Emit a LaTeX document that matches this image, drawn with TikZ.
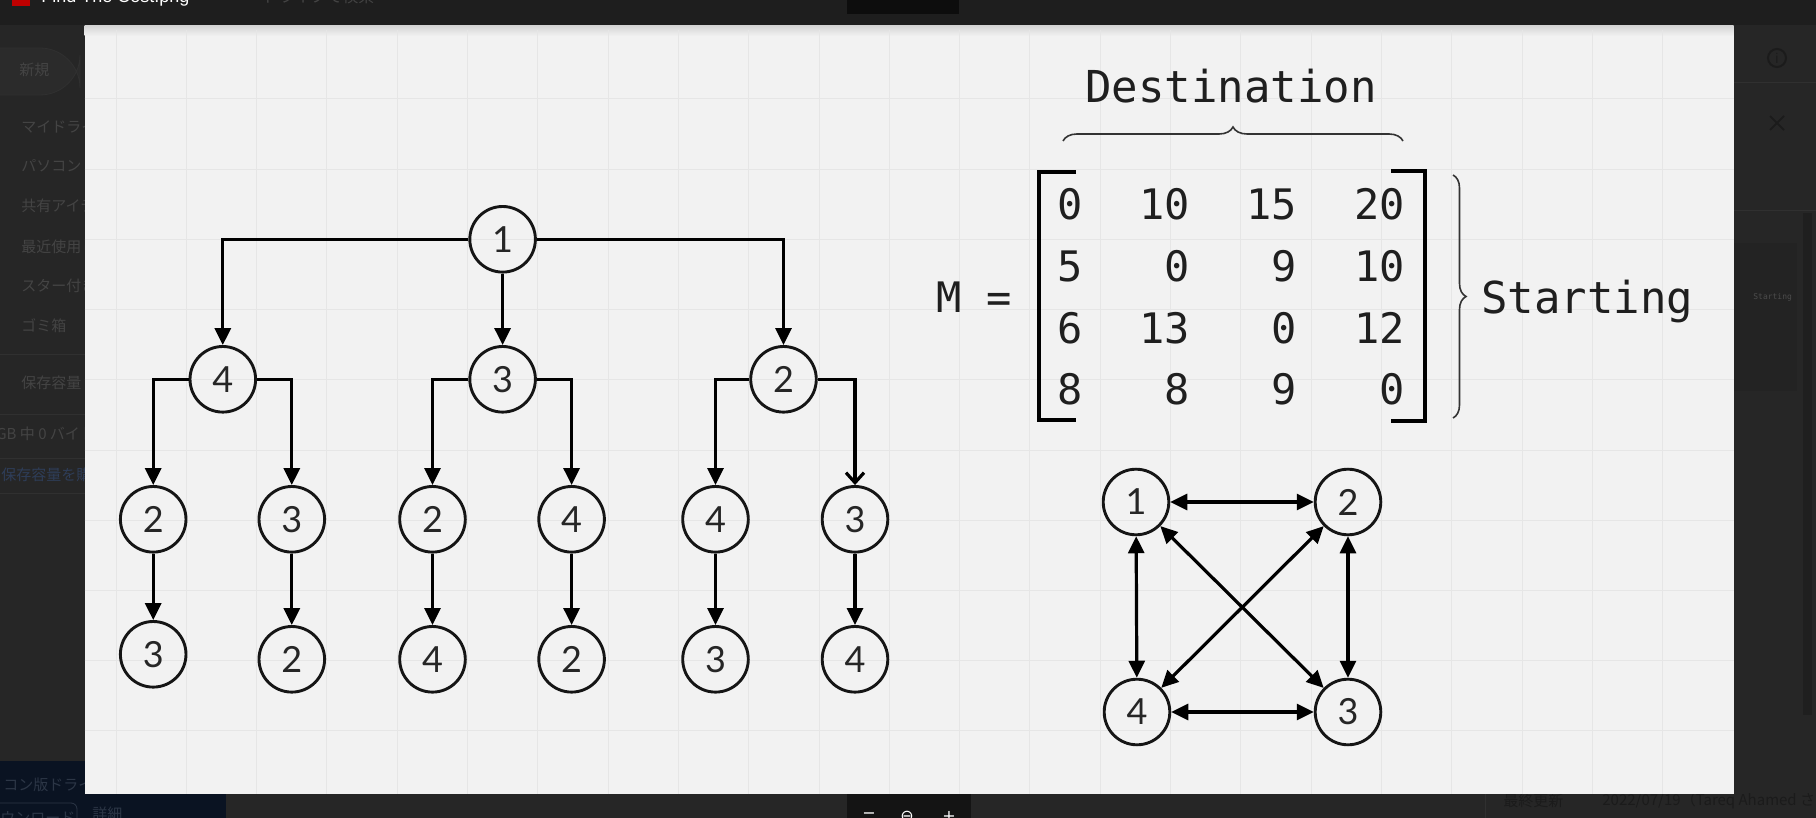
\documentclass[tikz,border=0pt]{standalone}
\usepackage{fontspec}
\usetikzlibrary{arrows.meta,decorations.pathreplacing}
\newfontfamily\monof{DejaVu Sans Mono}
\newfontfamily\numf{Lato}
\newfontfamily\jpf{Noto Sans CJK JP}
\newfontfamily\uif{Liberation Sans}
\newfontfamily\symf{DejaVu Sans}
\definecolor{canvasbg}{HTML}{F2F2F2}
\definecolor{gridc}{HTML}{E6E6E6}
\definecolor{uibg}{HTML}{262626}
\definecolor{pillc}{HTML}{2B2B2B}
\definecolor{topbar}{HTML}{1E1E1E}
\definecolor{uitext}{HTML}{444444}
\definecolor{uidark}{HTML}{1B1B1B}
\definecolor{uiline}{HTML}{303030}
\definecolor{ink}{HTML}{151515}
\definecolor{navy}{HTML}{0A1322}
\definecolor{navytext}{HTML}{2C3646}
\definecolor{linkc}{HTML}{2E3D58}
\tikzset{
  vnode/.style={circle, draw=ink, line width=1.45pt, minimum size=32.8pt, inner sep=0pt,
    font=\numf\fontsize{18}{18}\selectfont, text=black!85},
  tarr/.style={draw=black, line width=1.6pt, -{Triangle[length=8.5pt,width=8pt]}},
  barr/.style={draw=black, line width=1.6pt, {Triangle[length=8.5pt,width=8pt]}-{Triangle[length=8.5pt,width=8pt]}},
  oarr/.style={draw=black, line width=1.6pt, -{Straight Barb[length=5pt,width=9pt]}},
  mtx/.style={font=\monof\fontsize{21}{21}\selectfont, text=black!88, inner sep=0pt, anchor=base east},
  bigtxt/.style={font=\monof\fontsize{22}{22}\selectfont, text=black!88, inner sep=0pt, anchor=base west},
  bracketline/.style={draw=black, line width=2pt},
  bracestyle/.style={draw=black!80, line width=0.8pt, decorate},
  uil/.style={font=\jpf\fontsize{7.5}{7.5}\selectfont, text=uitext, anchor=west, inner sep=0pt},
  gridline/.style={draw=gridc, line width=0.5pt},
  sepline/.style={draw=uiline, line width=0.5pt},
}
\begin{document}
\begin{tikzpicture}[x=0.5pt, y=-0.5pt]
\useasboundingbox (0,0) rectangle (1816,818);
\clip (0,0) rectangle (1816,818);
% ---------- application frame ----------
\fill[uibg] (0,0) rectangle (1816,818);
\fill[topbar] (0,0) rectangle (1816,25);
\fill[red!75!black] (12,0) rectangle (30,6);
\node[font=\uif\fontsize{9}{9}\selectfont, text=white, anchor=base west, inner sep=0pt] (title) at (41,3) {Find The Cost.png};
\node[font=\jpf\fontsize{8}{8}\selectfont, text=uitext, anchor=base west, inner sep=0pt] (search) at (262,3) {ドライブで検索};
\fill[black!95] (847,0) rectangle (959,14);
% sidebar
\filldraw[fill=pillc, draw=uiline, rounded corners=20pt] (-40,48) rectangle (80,95);
\node[uil] (nw) at (19,70) {新規};
\node[uil] (s1) at (21,126) {マイドライブ};
\node[uil] (s2) at (21,166) {パソコン};
\node[uil] (s3) at (21,206) {共有アイテム};
\node[uil] (s4) at (21,247) {最近使用したアイテム};
\node[uil] (s5) at (21,286) {スター付き};
\node[uil] (s6) at (21,326) {ゴミ箱};
\draw[sepline] (0,355) -- (90,355);
\node[uil] (s7) at (21,383) {保存容量};
\draw[sepline] (0,414) -- (90,414);
\node[uil] (s8) at (-4,434) {GB 中 0 バイト};
\draw[sepline] (0,458) -- (90,458);
\node[uil, text=linkc] (s9) at (1,475) {保存容量を購入};
\draw[sepline] (0,493) -- (90,493);
% bottom left promo
\fill[navy] (0,761) rectangle (226,818);
\node[uil, text=navytext] (p1) at (3,785) {コン版ドライブ};
\draw[navytext, rounded corners=3pt] (-10,803) rectangle (77,830);
\node[uil, text=navytext] (p2) at (0,818) {ウンロード};
\node[uil, text=navytext] (p3) at (92,814) {詳細};
% bottom centre zoom bar
\fill[black!92] (847,794) rectangle (971,818);
\node[font=\symf\fontsize{8}{8}\selectfont, text=white!80, inner sep=0pt] (zm) at (869,816) {−};
\node[font=\symf\fontsize{8}{8}\selectfont, text=white!80, inner sep=0pt] (zz) at (907,816) {⊖};
\node[font=\symf\fontsize{8}{8}\selectfont, text=white!80, inner sep=0pt] (zp) at (949,816) {+};
% right details panel
\draw[sepline] (1733,83) -- (1816,83);
\draw[sepline] (1733,211) -- (1816,211);
\draw[uidark, line width=1pt] (1777,58) circle (9);
\node[font=\uif\fontsize{7}{7}\selectfont, text=uidark, inner sep=0pt] (info) at (1777,58) {i};
\draw[uidark, line width=1pt] (1770,116) -- (1784,130) (1770,130) -- (1784,116);
\fill[black, opacity=0.06] (1733,243) rectangle (1797,391);
\fill[black!88] (1803,213) rectangle (1812,715);
\node[font=\monof\fontsize{4}{4}\selectfont, text=black!70, anchor=west, inner sep=0pt] (thumb) at (1753,297) {Starting};
\draw[sepline] (1485,793) -- (1485,818);
\node[uil, text=uidark] (upd) at (1503,801) {最終更新};
\node[uil, text=uidark] (upd2) at (1602,801) {2022/07/19（Tareq Ahamed さん）};
% ---------- canvas ----------
\fill[canvasbg] (84.6,26) rectangle (1733.5,793.7);
\shade[top color=black!16, bottom color=canvasbg] (84.6,26) rectangle (1733.5,36);
\foreach \k in {0,...,22} {\draw[gridline] ({116+70.3*\k},30) -- ({116+70.3*\k},793.7);}
\foreach \k in {1,...,10} {\draw[gridline] (84.6,{28.8+70.2*\k}) -- (1733.5,{28.8+70.2*\k});}
% ---------- tree ----------
\node[vnode] (r)  at (502.6,239.3) {1};
\node[vnode] (a4) at (222.8,379.3) {4};
\node[vnode] (a3) at (502.6,379.3) {3};
\node[vnode] (a2) at (783.5,379.3) {2};
\node[vnode] (b1) at (153.2,519.3) {2};
\node[vnode] (b2) at (291.8,519.3) {3};
\node[vnode] (b3) at (432.5,519.3) {2};
\node[vnode] (b4) at (571.6,519.3) {4};
\node[vnode] (b5) at (715.5,519.3) {4};
\node[vnode] (b6) at (855.0,519.3) {3};
\node[vnode] (c1) at (153.2,654.3) {3};
\node[vnode] (c2) at (291.8,659.3) {2};
\node[vnode] (c3) at (432.5,659.3) {4};
\node[vnode] (c4) at (571.6,659.3) {2};
\node[vnode] (c5) at (715.5,659.3) {3};
\node[vnode] (c6) at (855.0,659.3) {4};
\draw[tarr] (r.west) -| (a4.north);
\draw[tarr] (r.south) -- (a3.north);
\draw[tarr] (r.east) -| (a2.north);
\draw[tarr] (a4.west) -| (b1.north);
\draw[tarr] (a4.east) -| (b2.north);
\draw[tarr] (a3.west) -| (b3.north);
\draw[tarr] (a3.east) -| (b4.north);
\draw[tarr] (a2.west) -| (b5.north);
\draw[oarr] (a2.east) -| (b6.north);
\draw[tarr] (b1.south) -- (c1.north);
\draw[tarr] (b2.south) -- (c2.north);
\draw[tarr] (b3.south) -- (c3.north);
\draw[tarr] (b4.south) -- (c4.north);
\draw[tarr] (b5.south) -- (c5.north);
\draw[tarr] (b6.south) -- (c6.north);
% ---------- matrix ----------
\node[bigtxt] (dest) at (1085,102.7) {Destination};
\draw[bracestyle, decoration={brace, amplitude=7pt}] (1063,141) -- (1403,141);
\node[mtx, anchor=base west] (mlab) at (936,312.7) {M =};
\draw[bracketline] (1076,172) -- (1039,172) -- (1039,420) -- (1076,420);
\draw[bracketline] (1391,171) -- (1425,171) -- (1425,421) -- (1391,421);
\node[mtx] (m11) at (1083,220) {0};
\node[mtx] (m12) at (1190,220) {10};
\node[mtx] (m13) at (1297,220) {15};
\node[mtx] (m14) at (1405,220) {20};
\node[mtx] (m21) at (1083,281.7) {5};
\node[mtx] (m22) at (1190,281.7) {0};
\node[mtx] (m23) at (1297,281.7) {9};
\node[mtx] (m24) at (1405,281.7) {10};
\node[mtx] (m31) at (1083,343.3) {6};
\node[mtx] (m32) at (1190,343.3) {13};
\node[mtx] (m33) at (1297,343.3) {0};
\node[mtx] (m34) at (1405,343.3) {12};
\node[mtx] (m41) at (1083,404.3) {8};
\node[mtx] (m42) at (1190,404.3) {8};
\node[mtx] (m43) at (1297,404.3) {9};
\node[mtx] (m44) at (1405,404.3) {0};
\draw[bracestyle, decoration={brace, amplitude=6.5pt}] (1453,175) -- (1453,418);
\node[bigtxt] (start) at (1481,314) {Starting};
% ---------- complete graph ----------
\node[vnode] (g1) at (1136,502) {1};
\node[vnode] (g2) at (1348,502) {2};
\node[vnode] (g3) at (1348,712) {3};
\node[vnode] (g4) at (1137,712) {4};
\draw[barr] (g1) -- (g2);
\draw[barr] (g1) -- (g4);
\draw[barr] (g2) -- (g3);
\draw[barr] (g4) -- (g3);
\draw[barr] (g1) -- (g3);
\draw[barr] (g2) -- (g4);
\end{tikzpicture}
\end{document}
